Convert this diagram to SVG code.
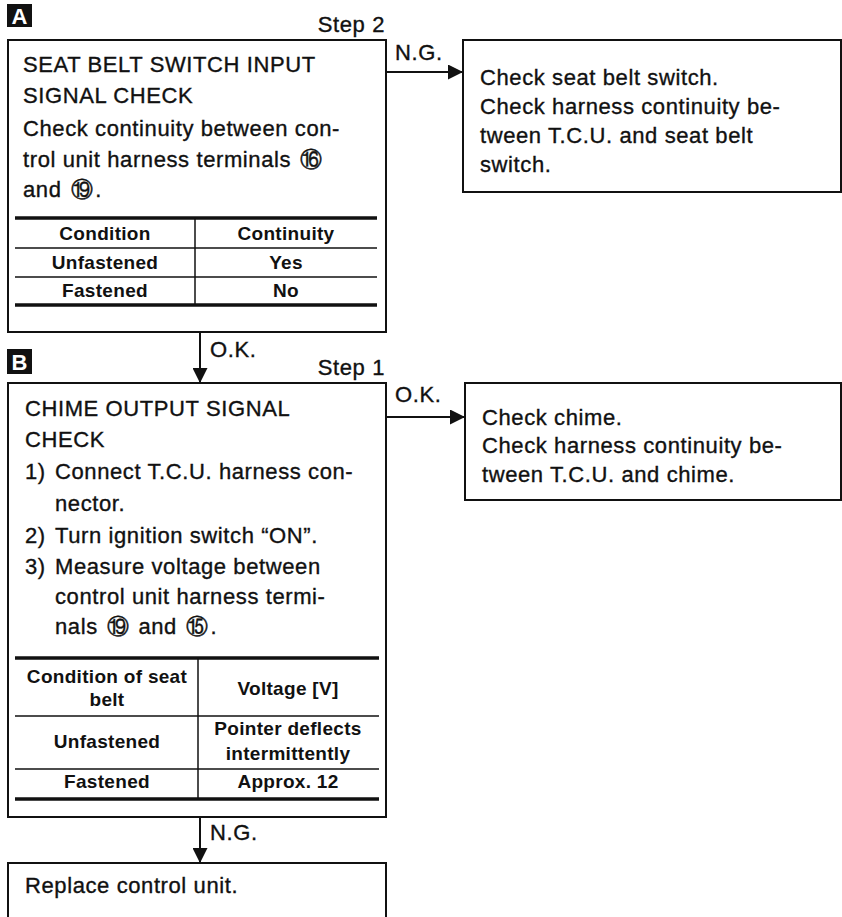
<svg xmlns="http://www.w3.org/2000/svg" width="842" height="917" viewBox="0 0 842 917">
<style>
  .bg { fill: #ffffff; }
  .box { fill: #ffffff; stroke: #111; stroke-width: 2; }
  .t { font-family: "Liberation Sans", Arial, sans-serif; font-size: 22px; letter-spacing: 0.6px; fill: #111; stroke: #111; stroke-width: 0.35px; }
  .tb { font-family: "Liberation Sans", Arial, sans-serif; font-size: 19px; font-weight: bold; letter-spacing: 0.3px; fill: #111; text-anchor: middle; }
  .cn { font-family: "DejaVu Sans", sans-serif; font-size: 22px; stroke: #111; stroke-width: 0.4px; }
  .thick { stroke: #111; stroke-width: 3.5; }
  .thin { stroke: #111; stroke-width: 1.5; }
  .conn { stroke: #111; stroke-width: 2; fill: none; }
  .tag { fill: #111; }
  .tagt { font-family: "Liberation Sans", Arial, sans-serif; font-size: 22px; font-weight: bold; fill: #fff; text-anchor: middle; }
</style>
<defs>
  <marker id="ah" viewBox="0 0 10 10" refX="10" refY="5" markerWidth="7.5" markerHeight="7.5" markerUnits="strokeWidth" orient="auto">
    <path d="M0,0 L10,5 L0,10 z" fill="#111"/>
  </marker>
</defs>
<rect class="bg" x="0" y="0" width="842" height="917"/>

<g id="tagA">
  <rect class="tag" x="7" y="4" width="25" height="23"/>
  <text class="tagt" x="19.5" y="24">A</text>
</g>
<text class="t" x="385" y="32" text-anchor="end">Step 2</text>

<g id="stepA">
  <rect class="box" x="8" y="40" width="378" height="292"/>
  <text class="t" x="23" y="72">SEAT BELT SWITCH INPUT</text>
  <text class="t" x="23" y="103">SIGNAL CHECK</text>
  <text class="t" x="23" y="136">Check continuity between con-</text>
  <text class="t" x="23" y="167">trol unit harness terminals<tspan class="cn" dx="9">⑯</tspan></text>
  <text class="t" x="23" y="197">and<tspan class="cn" dx="9">⑲</tspan><tspan dx="2">.</tspan></text>
  <line class="thick" x1="15" y1="218" x2="377" y2="218"/>
  <line class="thin" x1="15" y1="248" x2="377" y2="248"/>
  <line class="thin" x1="15" y1="277" x2="377" y2="277"/>
  <line class="thick" x1="15" y1="305" x2="377" y2="305"/>
  <line class="thin" x1="195" y1="218" x2="195" y2="305"/>
  <text class="tb" x="105" y="240">Condition</text>
  <text class="tb" x="286" y="240">Continuity</text>
  <text class="tb" x="105" y="269">Unfastened</text>
  <text class="tb" x="286" y="269">Yes</text>
  <text class="tb" x="105" y="297">Fastened</text>
  <text class="tb" x="286" y="297">No</text>
</g>

<g id="resultA">
  <rect class="box" x="463" y="40" width="378" height="152"/>
  <text class="t" x="480" y="85">Check seat belt switch.</text>
  <text class="t" x="480" y="114">Check harness continuity be-</text>
  <text class="t" x="480" y="143">tween T.C.U. and seat belt</text>
  <text class="t" x="480" y="172">switch.</text>
</g>

<g id="tagB">
  <rect class="tag" x="7" y="349" width="25" height="25"/>
  <text class="tagt" x="19.5" y="369.5">B</text>
</g>
<text class="t" x="385" y="375" text-anchor="end">Step 1</text>

<g id="stepB">
  <rect class="box" x="8" y="383" width="378" height="434"/>
  <text class="t" x="25" y="416">CHIME OUTPUT SIGNAL</text>
  <text class="t" x="25" y="447">CHECK</text>
  <text class="t" x="25" y="479">1)</text>
  <text class="t" x="55" y="479">Connect T.C.U. harness con-</text>
  <text class="t" x="55" y="511">nector.</text>
  <text class="t" x="25" y="543">2)</text>
  <text class="t" x="55" y="543">Turn ignition switch “ON”.</text>
  <text class="t" x="25" y="574">3)</text>
  <text class="t" x="55" y="574">Measure voltage between</text>
  <text class="t" x="55" y="604">control unit harness termi-</text>
  <text class="t" x="55" y="634">nals<tspan class="cn" dx="9">⑲</tspan><tspan dx="9">and</tspan><tspan class="cn" dx="9">⑮</tspan><tspan dx="2">.</tspan></text>
  <line class="thick" x1="15" y1="658" x2="379" y2="658"/>
  <line class="thin" x1="15" y1="716" x2="379" y2="716"/>
  <line class="thin" x1="15" y1="769" x2="379" y2="769"/>
  <line class="thick" x1="15" y1="799" x2="379" y2="799"/>
  <line class="thin" x1="198" y1="658" x2="198" y2="799"/>
  <text class="tb" x="107" y="683">Condition of seat</text>
  <text class="tb" x="107" y="706">belt</text>
  <text class="tb" x="288" y="695">Voltage [V]</text>
  <text class="tb" x="107" y="748">Unfastened</text>
  <text class="tb" x="288" y="735">Pointer deflects</text>
  <text class="tb" x="288" y="760">intermittently</text>
  <text class="tb" x="107" y="788">Fastened</text>
  <text class="tb" x="288" y="788">Approx. 12</text>
</g>

<g id="resultB">
  <rect class="box" x="465" y="383" width="376" height="117"/>
  <text class="t" x="482" y="425">Check chime.</text>
  <text class="t" x="482" y="453">Check harness continuity be-</text>
  <text class="t" x="482" y="482">tween T.C.U. and chime.</text>
</g>

<g id="stepC">
  <rect class="box" x="8" y="863" width="378" height="80"/>
  <text class="t" x="25" y="893">Replace control unit.</text>
</g>

<g id="connectors">
  <line class="conn" x1="386" y1="72" x2="463" y2="72" marker-end="url(#ah)"/>
  <text class="t" x="395" y="60">N.G.</text>
  <line class="conn" x1="200" y1="332" x2="200" y2="383" marker-end="url(#ah)"/>
  <text class="t" x="210" y="357">O.K.</text>
  <line class="conn" x1="386" y1="417" x2="465" y2="417" marker-end="url(#ah)"/>
  <text class="t" x="395" y="402">O.K.</text>
  <line class="conn" x1="200" y1="817" x2="200" y2="863" marker-end="url(#ah)"/>
  <text class="t" x="210" y="840">N.G.</text>
</g>
</svg>
